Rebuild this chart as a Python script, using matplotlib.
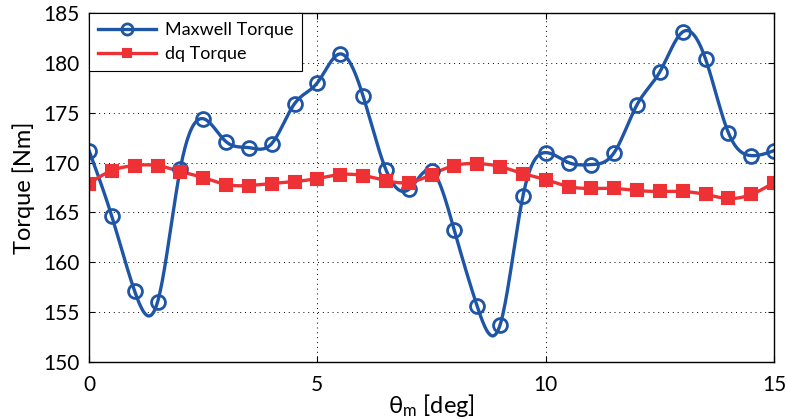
import numpy as np
import matplotlib.pyplot as plt

plt.rcParams['font.family'] = ['Lato', 'DejaVu Sans']
plt.rcParams['mathtext.fontset'] = 'custom'
plt.rcParams['mathtext.rm'] = 'Lato'
plt.rcParams['mathtext.it'] = 'Lato'

# rotor angle samples [deg]
theta = np.arange(0, 15.01, 0.5)

maxwell_torque = [171.2, 164.6, 157.1, 156.0, 169.4, 174.4, 172.1, 171.5, 171.9, 175.9,
                  178.0, 180.9, 176.7, 169.3, 167.3, 169.2, 163.2, 155.6, 153.7, 166.6,
                  171.0, 170.0, 169.8, 171.0, 175.8, 179.1, 183.1, 180.4, 173.0, 170.7,
                  171.2]
dq_torque = [167.9, 169.2, 169.7, 169.7, 169.1, 168.5, 167.8, 167.7, 167.9, 168.1,
             168.4, 168.8, 168.7, 168.2, 168.0, 168.8, 169.7, 169.9, 169.6, 168.9,
             168.3, 167.6, 167.4, 167.4, 167.2, 167.1, 167.1, 166.8, 166.4, 166.8,
             168.0]


def spline(x, y, xs):
    # natural cubic spline through the samples
    x = np.asarray(x, float)
    y = np.asarray(y, float)
    n = len(x)
    h = np.diff(x)
    A = np.zeros((n, n))
    b = np.zeros(n)
    A[0, 0] = A[-1, -1] = 1
    for i in range(1, n - 1):
        A[i, i - 1] = h[i - 1]
        A[i, i] = 2 * (h[i - 1] + h[i])
        A[i, i + 1] = h[i]
        b[i] = 6 * ((y[i + 1] - y[i]) / h[i] - (y[i] - y[i - 1]) / h[i - 1])
    M = np.linalg.solve(A, b)
    idx = np.clip(np.searchsorted(x, xs) - 1, 0, n - 2)
    x0, x1 = x[idx], x[idx + 1]
    hh = x1 - x0
    t0, t1 = x1 - xs, xs - x0
    return (M[idx] * t0**3 / (6 * hh) + M[idx + 1] * t1**3 / (6 * hh)
            + (y[idx] / hh - M[idx] * hh / 6) * t0
            + (y[idx + 1] / hh - M[idx + 1] * hh / 6) * t1)


blue = '#1f55a6'
red = '#ee3135'
xs = np.linspace(0, 15, 600)

fig = plt.figure(figsize=(7.87, 4.19), dpi=100)
ax = fig.add_axes([0.1131, 0.136, 0.8704, 0.833])

ax.plot(xs, spline(theta, maxwell_torque, xs), color=blue, lw=2.4)
ax.plot(xs, spline(theta, dq_torque, xs), color=red, lw=2.4)
ax.plot(theta, maxwell_torque, 'o', color=blue, mfc='none', ms=10, mew=2)
ax.plot(theta, dq_torque, 's', color=red, mfc=red, ms=8, mew=1.5)

# legend proxies with line + marker
h1, = ax.plot([], [], '-o', color=blue, lw=2.4, mfc='none', ms=8, mew=2)
h2, = ax.plot([], [], '-s', color=red, lw=2.4, mfc=red, ms=6, mew=1.5)
leg = ax.legend([h1, h2], ['Maxwell Torque', 'dq Torque'], loc='upper left',
                fontsize=13, fancybox=False, framealpha=1, borderaxespad=0,
                handlelength=3.2, handletextpad=0.5, borderpad=0.5,
                labelspacing=0.45)
leg.get_frame().set_edgecolor('black')
leg.get_frame().set_linewidth(0.8)

ax.set_xlim(0, 15)
ax.set_ylim(150, 185)
ax.set_xticks([0, 5, 10, 15])
ax.set_yticks(np.arange(150, 186, 5))
ax.grid(True, color='black', linestyle=(0, (1, 4)), linewidth=0.7)
ax.tick_params(direction='in', labelsize=15, top=True, right=True, length=4)
ax.tick_params(axis='y', pad=7)
ax.tick_params(axis='x', pad=9)
for s in ax.spines.values():
    s.set_linewidth(1)
ax.set_xlabel(r'$\mathrm{\theta_m}$ [deg]', fontsize=17, labelpad=-2)
ax.set_ylabel('Torque [Nm]', fontsize=17, labelpad=6)

fig.savefig('out.png', dpi=100)
